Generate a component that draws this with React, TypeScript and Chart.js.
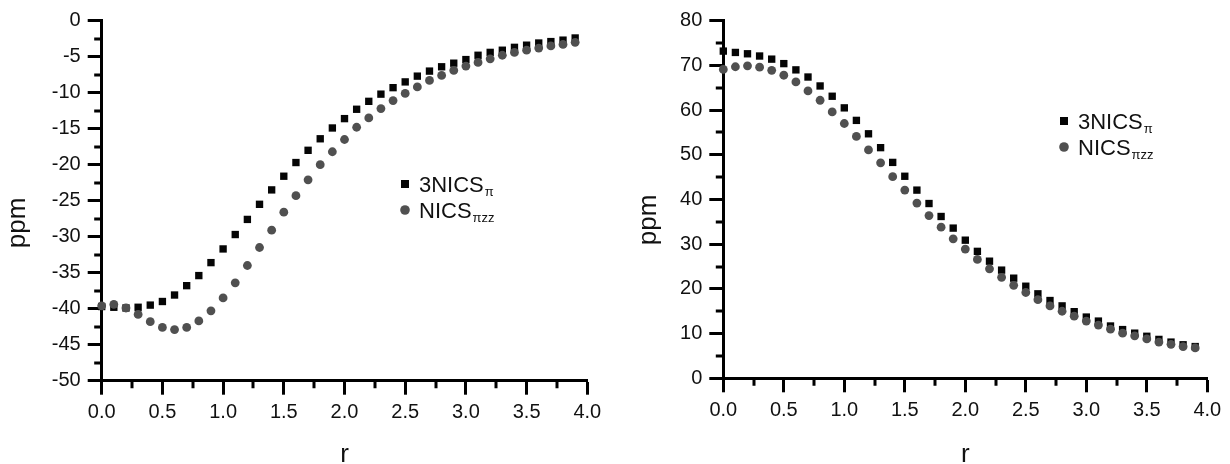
import React, { useEffect, useRef } from "react";
import { Chart, registerables } from "chart.js";

Chart.register(...registerables);

// ---------- data ----------
const rValues = [
  0.0, 0.1, 0.2, 0.3, 0.4, 0.5, 0.6, 0.7, 0.8, 0.9,
  1.0, 1.1, 1.2, 1.3, 1.4, 1.5, 1.6, 1.7, 1.8, 1.9,
  2.0, 2.1, 2.2, 2.3, 2.4, 2.5, 2.6, 2.7, 2.8, 2.9,
  3.0, 3.1, 3.2, 3.3, 3.4, 3.5, 3.6, 3.7, 3.8, 3.9,
];

// left panel
const left3NICSpi = [
  -39.7, -39.8, -39.9, -39.8, -39.5, -39.0, -38.1, -36.8, -35.4, -33.6,
  -31.7, -29.7, -27.6, -25.5, -23.5, -21.6, -19.7, -18.0, -16.4, -14.9,
  -13.6, -12.3, -11.2, -10.2, -9.3, -8.5, -7.7, -7.0, -6.4, -5.9,
  -5.4, -4.8, -4.4, -4.1, -3.7, -3.4, -3.1, -2.9, -2.7, -2.4,
];
const leftNICSpizz = [
  -39.6, -39.4, -39.9, -40.8, -41.8, -42.6, -42.9, -42.6, -41.7, -40.3,
  -38.5, -36.4, -34.0, -31.5, -29.1, -26.6, -24.3, -22.1, -20.0, -18.2,
  -16.5, -14.8, -13.5, -12.2, -11.1, -10.1, -9.2, -8.3, -7.6, -6.9,
  -6.3, -5.8, -5.3, -4.8, -4.4, -4.1, -3.8, -3.5, -3.3, -3.0,
];

// right panel
const right3NICSpi = [
  73.2, 72.9, 72.6, 72.1, 71.4, 70.4, 69.0, 67.4, 65.4, 63.1,
  60.5, 57.7, 54.7, 51.6, 48.3, 45.2, 42.1, 39.1, 36.2, 33.6,
  30.9, 28.4, 26.2, 24.2, 22.4, 20.6, 18.9, 17.4, 16.2, 14.9,
  13.7, 12.8, 11.7, 10.9, 10.1, 9.4, 8.7, 8.1, 7.5, 7.1,
];
const rightNICSpizz = [
  69.1, 69.7, 69.9, 69.6, 68.9, 67.8, 66.3, 64.3, 62.2, 59.6,
  57.0, 54.1, 51.1, 48.2, 45.1, 42.1, 39.2, 36.4, 33.8, 31.2,
  28.9, 26.6, 24.5, 22.6, 20.8, 19.2, 17.6, 16.2, 15.0, 13.9,
  12.8, 11.9, 11.0, 10.1, 9.5, 8.8, 8.1, 7.6, 7.1, 6.8,
];

// ticks
const xTickValues = [0, 0.5, 1, 1.5, 2, 2.5, 3, 3.5, 4];
const xTickLabels = ["0.0", "0.5", "1.0", "1.5", "2.0", "2.5", "3.0", "3.5", "4.0"];
const xMinorTicks = [0.25, 0.75, 1.25, 1.75, 2.25, 2.75, 3.25, 3.75];

const leftYTickValues = [-50, -45, -40, -35, -30, -25, -20, -15, -10, -5, 0];
const leftYTickLabels = ["-50", "-45", "-40", "-35", "-30", "-25", "-20", "-15", "-10", "-5", "0"];
const leftYMinorTicks = [-47.5, -42.5, -37.5, -32.5, -27.5, -22.5, -17.5, -12.5, -7.5, -2.5];

const rightYTickValues = [0, 10, 20, 30, 40, 50, 60, 70, 80];
const rightYTickLabels = ["0", "10", "20", "30", "40", "50", "60", "70", "80"];
const rightYMinorTicks = [5, 15, 25, 35, 45, 55, 65, 75];

const seriesNames = [
  { main: "3NICS", sub: "\u03c0" },
  { main: "NICS", sub: "\u03c0zz" },
];
const xTitle = "r";
const yTitle = "ppm";

// ---------- styling ----------
const FONT = "'Liberation Sans', Arial, Helvetica, sans-serif";
const SQUARE_COLOR = "#050505";
const CIRCLE_COLOR = "#505050";
const TEXT_COLOR = "#111111";

type Panel = {
  squares: number[];
  circles: number[];
  yMin: number;
  yMax: number;
  yTicks: number[];
  yLabels: string[];
  yMinor: number[];
  padTop: number;
  padRight: number;
  yWidth: number;
  xHeight: number;
  legendX: number;
  legendY: number;
  yTitleX: number;
  yTitleY: number;
};

const W = 615;
const H = 464;

const decorPlugin = {
  id: "decor",
  afterDraw(chart: any, _args: any, opts: any) {
    const ctx = chart.ctx as CanvasRenderingContext2D;
    const area = chart.chartArea;
    const xs = chart.scales.x;
    const ys = chart.scales.y;
    ctx.save();
    // minor ticks
    ctx.strokeStyle = "#000";
    ctx.lineWidth = 3;
    ctx.lineCap = "butt";
    ctx.beginPath();
    for (const v of xMinorTicks) {
      const px = Math.round(xs.getPixelForValue(v));
      ctx.moveTo(px, area.bottom);
      ctx.lineTo(px, area.bottom + 7.5);
    }
    for (const v of opts.yMinor as number[]) {
      const py = Math.round(ys.getPixelForValue(v));
      ctx.moveTo(area.left, py);
      ctx.lineTo(area.left - 7.5, py);
    }
    ctx.stroke();

    // axis titles
    ctx.fillStyle = TEXT_COLOR;
    ctx.font = `26px ${FONT}`;
    ctx.textAlign = "center";
    ctx.textBaseline = "alphabetic";
    ctx.fillText(xTitle, (area.left + area.right) / 2, 462);
    ctx.save();
    ctx.translate(opts.yTitleX, opts.yTitleY);
    ctx.rotate(-Math.PI / 2);
    ctx.fillText(yTitle, 0, 0);
    ctx.restore();

    // legend
    const lx = opts.legendX;
    const ly = opts.legendY;
    const rowGap = 26;
    // square marker
    ctx.fillStyle = SQUARE_COLOR;
    ctx.fillRect(lx - 4, ly - 4, 8, 8);
    // circle marker
    ctx.fillStyle = CIRCLE_COLOR;
    ctx.beginPath();
    ctx.arc(lx, ly + rowGap, 4.8, 0, Math.PI * 2);
    ctx.fill();

    ctx.fillStyle = TEXT_COLOR;
    ctx.textAlign = "left";
    seriesNames.forEach((s, i) => {
      const by = ly + i * rowGap + 8;
      const tx = lx + 14;
      ctx.font = `22px ${FONT}`;
      ctx.fillText(s.main, tx, by);
      const w = ctx.measureText(s.main).width;
      ctx.font = `13px ${FONT}`;
      ctx.fillText(s.sub, tx + w + 1, by + 4);
    });
    ctx.restore();
  },
};

function makeConfig(p: Panel): any {
  const tickFont = { family: FONT, size: 20 };
  return {
    type: "scatter",
    data: {
      datasets: [
        {
          label: "NICS\u03c0zz",
          data: rValues.map((x, i) => ({ x, y: p.circles[i] })),
          pointStyle: "circle",
          pointRadius: 4.4,
          pointBorderWidth: 0,
          backgroundColor: CIRCLE_COLOR,
          borderColor: CIRCLE_COLOR,
          showLine: false,
          clip: false,
          order: 1,
        },
        {
          label: "3NICS\u03c0",
          data: rValues.map((x, i) => ({ x, y: p.squares[i] })),
          pointStyle: "rect",
          pointRadius: 5.2,
          pointBorderWidth: 0,
          backgroundColor: SQUARE_COLOR,
          borderColor: SQUARE_COLOR,
          showLine: false,
          clip: false,
          order: 2,
        },
      ],
    },
    options: {
      responsive: false,
      animation: false,
      devicePixelRatio: 1,
      events: [],
      layout: { padding: { left: 0, top: p.padTop, right: p.padRight, bottom: 0 } },
      plugins: {
        legend: { display: false },
        tooltip: { enabled: false },
        decor: {
          yMinor: p.yMinor,
          legendX: p.legendX,
          legendY: p.legendY,
          yTitleX: p.yTitleX,
          yTitleY: p.yTitleY,
        },
      },
      scales: {
        x: {
          type: "linear",
          position: "bottom",
          min: 0,
          max: 4,
          afterFit: (s: any) => {
            s.height = p.xHeight;
          },
          afterBuildTicks: (s: any) => {
            s.ticks = xTickValues.map((v) => ({ value: v }));
          },
          ticks: {
            autoSkip: false,
            maxRotation: 0,
            padding: 6,
            color: TEXT_COLOR,
            font: tickFont,
            callback: (_v: any, i: number) => xTickLabels[i],
          },
          grid: {
            drawOnChartArea: false,
            drawTicks: true,
            tickLength: 14,
            tickWidth: 3,
            tickColor: "#000",
          },
          border: { display: true, width: 3, color: "#000" },
        },
        y: {
          type: "linear",
          position: "left",
          min: p.yMin,
          max: p.yMax,
          afterFit: (s: any) => {
            s.width = p.yWidth;
          },
          afterBuildTicks: (s: any) => {
            s.ticks = p.yTicks.map((v) => ({ value: v }));
          },
          ticks: {
            autoSkip: false,
            padding: 7,
            color: TEXT_COLOR,
            font: tickFont,
            callback: (_v: any, i: number) => p.yLabels[i],
          },
          grid: {
            drawOnChartArea: false,
            drawTicks: true,
            tickLength: 14,
            tickWidth: 3,
            tickColor: "#000",
          },
          border: { display: true, width: 3, color: "#000" },
        },
      },
    },
    plugins: [decorPlugin],
  };
}

const leftPanel: Panel = {
  squares: left3NICSpi,
  circles: leftNICSpizz,
  yMin: -50,
  yMax: 0,
  yTicks: leftYTickValues,
  yLabels: leftYTickLabels,
  yMinor: leftYMinorTicks,
  padTop: 20.7,
  padRight: W - 587.3,
  yWidth: 101.7,
  xHeight: H - 380.7,
  legendX: 405,
  legendY: 184,
  yTitleX: 25,
  yTitleY: 223,
};

const rightPanel: Panel = {
  squares: right3NICSpi,
  circles: rightNICSpizz,
  yMin: 0,
  yMax: 80,
  yTicks: rightYTickValues,
  yLabels: rightYTickLabels,
  yMinor: rightYMinorTicks,
  padTop: 20.7,
  padRight: W - (1207.3 - 615),
  yWidth: 723.3 - 615,
  xHeight: H - 378.3,
  legendX: 1064 - 615,
  legendY: 121,
  yTitleX: 41,
  yTitleY: 220,
};

function PanelChart({ panel, left }: { panel: Panel; left: number }) {
  const ref = useRef<HTMLCanvasElement | null>(null);
  useEffect(() => {
    if (!ref.current) return;
    const chart = new Chart(ref.current, makeConfig(panel));
    return () => chart.destroy();
  }, [panel]);
  return (
    <canvas
      ref={ref}
      width={W}
      height={H}
      style={{ position: "absolute", left, top: 0, width: W, height: H, display: "block" }}
    />
  );
}

export default function App() {
  return (
    <div
      style={{
        position: "absolute",
        left: 0,
        top: 0,
        width: 1230,
        height: 464,
        background: "#fff",
        overflow: "hidden",
      }}
    >
      <PanelChart panel={leftPanel} left={0} />
      <PanelChart panel={rightPanel} left={615} />
    </div>
  );
}
